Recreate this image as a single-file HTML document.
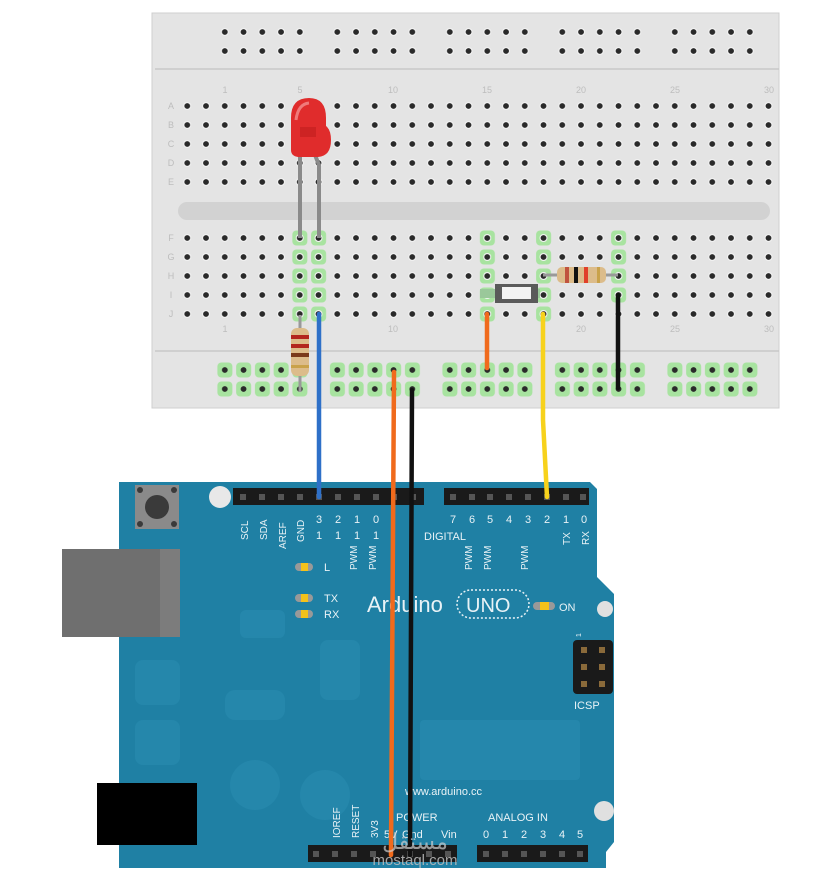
<!DOCTYPE html>
<html><head><meta charset="utf-8"><style>
html,body{margin:0;padding:0;background:#fff;}
svg{display:block;}
text{font-family:"Liberation Sans",sans-serif;}
</style></head><body>
<svg width="832" height="886" viewBox="0 0 832 886" xmlns="http://www.w3.org/2000/svg">
<defs>
<pattern id="dg" x="196.6" y="96.5" width="18.75" height="19" patternUnits="userSpaceOnUse">
<circle cx="9.4" cy="9.5" r="4" fill="#f2f2f2"/><circle cx="9.4" cy="9.5" r="2.9" fill="#2a2a2a"/></pattern>
<pattern id="dg2" x="196.6" y="228.5" width="18.75" height="19" patternUnits="userSpaceOnUse">
<circle cx="9.4" cy="9.5" r="4" fill="#f2f2f2"/><circle cx="9.4" cy="9.5" r="2.9" fill="#2a2a2a"/></pattern>
<pattern id="gh" x="196.6" y="228.5" width="18.75" height="19" patternUnits="userSpaceOnUse">
<rect x="2" y="2" width="15" height="15" rx="4" fill="#a8e3a0"/></pattern>
<pattern id="rt" x="215.4" y="22.5" width="18.75" height="19" patternUnits="userSpaceOnUse">
<circle cx="9.4" cy="9.5" r="4" fill="#f2f2f2"/><circle cx="9.4" cy="9.5" r="2.9" fill="#2a2a2a"/></pattern>
<pattern id="rb" x="215.4" y="360.5" width="18.75" height="19" patternUnits="userSpaceOnUse">
<rect x="2" y="2" width="15" height="15" rx="4" fill="#a8e3a0"/><circle cx="9.4" cy="9.5" r="2.9" fill="#2a2a2a"/></pattern>
</defs>

<!-- Breadboard -->
<rect x="152" y="13" width="627" height="395" fill="#e4e4e4" stroke="#cfcfcf"/>
<line x1="155" y1="69" x2="779" y2="69" stroke="#c8c8c8" stroke-width="1.5"/>
<line x1="155" y1="351" x2="779" y2="351" stroke="#c8c8c8" stroke-width="1.5"/>
<rect x="178" y="202" width="592" height="18" rx="9" fill="#d2d2d2"/>

<!-- top rail -->
<g fill="url(#rt)">
<rect x="215.4" y="22.5" width="93.75" height="38"/>
<rect x="327.9" y="22.5" width="93.75" height="38"/>
<rect x="440.4" y="22.5" width="93.75" height="38"/>
<rect x="552.9" y="22.5" width="93.75" height="38"/>
<rect x="665.4" y="22.5" width="93.75" height="38"/>
</g>
<!-- bottom rail -->
<g fill="url(#rb)">
<rect x="215.4" y="360.5" width="93.75" height="38"/>
<rect x="327.9" y="360.5" width="93.75" height="38"/>
<rect x="440.4" y="360.5" width="93.75" height="38"/>
<rect x="552.9" y="360.5" width="93.75" height="38"/>
<rect x="665.4" y="360.5" width="93.75" height="38"/>
</g>

<!-- highlights lower -->
<g fill="url(#gh)">
<rect x="290.35" y="228.5" width="37.5" height="95"/>
<rect x="477.85" y="228.5" width="18.75" height="95"/>
<rect x="534.1" y="228.5" width="18.75" height="95"/>
<rect x="609.1" y="228.5" width="18.75" height="76"/>
</g>
<!-- main grids -->
<rect x="177" y="96.5" width="601" height="95" fill="url(#dg)"/>
<rect x="177" y="228.5" width="601" height="95" fill="url(#dg2)"/>

<!-- labels -->
<g font-size="9" fill="#bdbdbd" text-anchor="middle">
<text x="225" y="93">1</text><text x="300" y="93">5</text><text x="393" y="93">10</text><text x="487" y="93">15</text><text x="581" y="93">20</text><text x="675" y="93">25</text><text x="769" y="93">30</text>
<text x="225" y="332">1</text><text x="393" y="332">10</text><text x="581" y="332">20</text><text x="675" y="332">25</text><text x="769" y="332">30</text>
<text x="171" y="109">A</text><text x="171" y="128">B</text><text x="171" y="147">C</text><text x="171" y="166">D</text><text x="171" y="185">E</text>
<text x="171" y="241">F</text><text x="171" y="260">G</text><text x="171" y="279">H</text><text x="171" y="298">I</text><text x="171" y="317">J</text>
</g>

<!-- LED -->
<path d="M300 150 L300 238" stroke="#8a8a8a" stroke-width="4"/>
<path d="M313 150 L319 165 L319 238" stroke="#8a8a8a" stroke-width="4" fill="none"/>
<path d="M291 150 L291 118 Q291 98 309 98 Q326 98 326 118 L326 126 Q331 130 331 140 Q331 156 318 157 L298 157 Q291 156 291 150 Z" fill="#e02c2c"/>
<path d="M296 120 Q298 104 309 103" stroke="#f07a7a" stroke-width="3" fill="none"/>
<rect x="300" y="127" width="16" height="10" fill="#c01e1e" opacity="0.6"/>

<!-- resistor 1 vertical -->
<line x1="300" y1="315" x2="300" y2="392" stroke="#999" stroke-width="3"/>
<rect x="291" y="328" width="18" height="48" rx="6" fill="#dcbc8a"/>
<rect x="291" y="335" width="18" height="4" fill="#b3261e"/>
<rect x="291" y="344" width="18" height="4" fill="#b3261e"/>
<rect x="291" y="353" width="18" height="4" fill="#7a3a1a"/>
<rect x="291" y="365" width="18" height="3" fill="#c9a24a"/>

<!-- button -->
<rect x="480" y="289" width="60" height="9" fill="#9ac89a"/>
<rect x="495" y="284" width="43" height="19" fill="#5a5a5a"/>
<rect x="502" y="287" width="29" height="12" fill="#f2f2f2"/>

<!-- resistor 2 -->
<line x1="543" y1="275" x2="618" y2="275" stroke="#999" stroke-width="3"/>
<rect x="557" y="267" width="49" height="16" rx="5" fill="#dcbc8a"/>
<rect x="565" y="267" width="4" height="16" fill="#b3261e" opacity="0.7"/>
<rect x="574" y="267" width="4" height="16" fill="#111"/>
<rect x="584" y="267" width="4" height="16" fill="#e0402a"/>
<rect x="597" y="267" width="3" height="16" fill="#c9a24a"/>

<!-- Arduino board -->
<path d="M119 482 L590 482 L597 489 L597 577 L614 594 L614 842 L606 852 L606 868 L119 868 Z" fill="#1f80a4"/>
<g fill="#2a8db2" opacity="0.55">
<rect x="135" y="660" width="45" height="45" rx="8"/><rect x="135" y="720" width="45" height="45" rx="8"/>
<rect x="225" y="690" width="60" height="30" rx="10"/><rect x="230" y="760" width="50" height="50" rx="25"/>
<rect x="300" y="770" width="50" height="50" rx="25"/><rect x="320" y="640" width="40" height="60" rx="8"/>
<rect x="420" y="720" width="160" height="60" rx="4"/><rect x="240" y="610" width="45" height="28" rx="6"/>
</g>
<!-- USB -->
<rect x="62" y="549" width="118" height="88" fill="#6f6f6f"/>
<rect x="160" y="549" width="20" height="88" fill="#7c7c7c"/>
<!-- power jack -->
<rect x="97" y="783" width="100" height="62" fill="#000"/>
<!-- reset button -->
<rect x="135" y="485" width="44" height="44" fill="#8a8a8a"/>
<circle cx="157" cy="507" r="12" fill="#3a3a3a"/>
<g fill="#3a3a3a"><circle cx="140" cy="490" r="3"/><circle cx="174" cy="490" r="3"/><circle cx="140" cy="524" r="3"/><circle cx="174" cy="524" r="3"/></g>
<!-- holes -->
<circle cx="220" cy="497" r="11" fill="#e8e8e8"/>
<circle cx="605" cy="609" r="8" fill="#e0e0e0"/>
<circle cx="604" cy="811" r="10" fill="#e0e0e0"/>

<!-- headers -->
<rect x="233" y="488" width="191" height="17" fill="#1a1a1a"/>
<rect x="444" y="488" width="145" height="17" fill="#1a1a1a"/>
<rect x="308" y="845" width="149" height="17" fill="#1a1a1a"/>
<rect x="477" y="845" width="111" height="17" fill="#1a1a1a"/>
<g fill="#555">
<rect x="240" y="494" width="6" height="6"/><rect x="259" y="494" width="6" height="6"/><rect x="278" y="494" width="6" height="6"/><rect x="297" y="494" width="6" height="6"/><rect x="316" y="494" width="6" height="6"/><rect x="335" y="494" width="6" height="6"/><rect x="354" y="494" width="6" height="6"/><rect x="373" y="494" width="6" height="6"/><rect x="391" y="494" width="6" height="6"/><rect x="410" y="494" width="6" height="6"/>
<rect x="450" y="494" width="6" height="6"/><rect x="469" y="494" width="6" height="6"/><rect x="487" y="494" width="6" height="6"/><rect x="506" y="494" width="6" height="6"/><rect x="525" y="494" width="6" height="6"/><rect x="544" y="494" width="6" height="6"/><rect x="563" y="494" width="6" height="6"/><rect x="580" y="494" width="6" height="6"/>
<rect x="313" y="851" width="6" height="6"/><rect x="332" y="851" width="6" height="6"/><rect x="351" y="851" width="6" height="6"/><rect x="370" y="851" width="6" height="6"/><rect x="407" y="851" width="6" height="6"/><rect x="426" y="851" width="6" height="6"/><rect x="445" y="851" width="6" height="6"/>
<rect x="483" y="851" width="6" height="6"/><rect x="502" y="851" width="6" height="6"/><rect x="521" y="851" width="6" height="6"/><rect x="540" y="851" width="6" height="6"/><rect x="559" y="851" width="6" height="6"/><rect x="577" y="851" width="6" height="6"/>
</g>
<!-- ICSP -->
<rect x="573" y="640" width="40" height="54" rx="4" fill="#1a1a1a"/>
<g fill="#8a6a3a"><rect x="581" y="647" width="6" height="6"/><rect x="599" y="647" width="6" height="6"/><rect x="581" y="664" width="6" height="6"/><rect x="599" y="664" width="6" height="6"/><rect x="581" y="681" width="6" height="6"/><rect x="599" y="681" width="6" height="6"/></g>

<!-- board labels -->
<g fill="#e8f2f6" font-size="11">
<g text-anchor="middle">
<text x="319" y="523">3</text><text x="338" y="523">2</text><text x="357" y="523">1</text><text x="376" y="523">0</text>
<text x="319" y="539">1</text><text x="338" y="539">1</text><text x="357" y="539">1</text><text x="376" y="539">1</text>
<text x="453" y="523">7</text><text x="472" y="523">6</text><text x="490" y="523">5</text><text x="509" y="523">4</text><text x="528" y="523">3</text><text x="547" y="523">2</text><text x="566" y="523">1</text><text x="584" y="523">0</text>
</g>
<text x="424" y="540">DIGITAL</text>
<g font-size="10">
<text transform="translate(248,540) rotate(-90)">SCL</text>
<text transform="translate(267,540) rotate(-90)">SDA</text>
<text transform="translate(286,549) rotate(-90)">AREF</text>
<text transform="translate(304,542) rotate(-90)">GND</text>
<text transform="translate(357,570) rotate(-90)">PWM</text>
<text transform="translate(376,570) rotate(-90)">PWM</text>
<text transform="translate(472,570) rotate(-90)">PWM</text>
<text transform="translate(491,570) rotate(-90)">PWM</text>
<text transform="translate(528,570) rotate(-90)">PWM</text>
<text transform="translate(570,545) rotate(-90)">TX</text>
<text transform="translate(589,545) rotate(-90)">RX</text>
<text transform="translate(581,637) rotate(-90)" font-size="7">1</text>
</g>
<text x="324" y="571">L</text><text x="324" y="602">TX</text><text x="324" y="618">RX</text>
<text x="367" y="612" font-size="22">Arduino</text>
<text x="466" y="612" font-size="20">UNO</text>
<text x="559" y="611" font-size="11">ON</text>
<text x="574" y="709" font-size="11">ICSP</text>
<text x="405" y="795" font-size="11">www.arduino.cc</text>
<text x="396" y="821" font-size="11">POWER</text>
<text x="488" y="821" font-size="11">ANALOG IN</text>
<g text-anchor="middle"><text x="486" y="838">0</text><text x="505" y="838">1</text><text x="524" y="838">2</text><text x="543" y="838">3</text><text x="562" y="838">4</text><text x="580" y="838">5</text></g>
<text x="384" y="838">5V</text><text x="402" y="838">Gnd</text><text x="441" y="838">Vin</text>
<g font-size="10">
<text transform="translate(340,838) rotate(-90)">IOREF</text>
<text transform="translate(359,838) rotate(-90)">RESET</text>
<text transform="translate(378,838) rotate(-90)">3V3</text>
</g>
</g>
<rect x="457" y="590" width="72" height="28" rx="14" fill="none" stroke="#e8f2f6" stroke-width="1.5" stroke-dasharray="2 2"/>
<!-- LEDs -->
<g>
<rect x="295" y="563" width="18" height="8" rx="4" fill="#999"/><rect x="301" y="563" width="7" height="8" fill="#f3c21b"/>
<rect x="295" y="594" width="18" height="8" rx="4" fill="#999"/><rect x="301" y="594" width="7" height="8" fill="#f3c21b"/>
<rect x="295" y="610" width="18" height="8" rx="4" fill="#999"/><rect x="301" y="610" width="7" height="8" fill="#f3c21b"/>
<rect x="533" y="602" width="22" height="8" rx="4" fill="#999"/><rect x="540" y="602" width="9" height="8" fill="#f3c21b"/>
</g>

<!-- wires -->
<g stroke-linecap="round" fill="none" stroke-width="4.5">
<path d="M319 314 L319 497" stroke="#2e70c8"/>
<path d="M487 314 L487 368" stroke="#f06a1c"/>
<path d="M543 314 L543 420 L547 497" stroke="#f7d21c"/>
<path d="M618 295 L618 388" stroke="#111"/>
<path d="M394 372 L391 855" stroke="#f06a1c"/>
<path d="M412 390 L410 855" stroke="#111"/>
</g>

<!-- watermark -->
<text x="415" y="849" font-size="22" fill="#cfcfcf" opacity="0.7" text-anchor="middle" font-family="'Liberation Sans','DejaVu Sans',sans-serif">مستقل</text>
<text x="415" y="865" font-size="15" fill="#bdbdbd" opacity="0.85" text-anchor="middle">mostaql.com</text>
</svg>
</body></html>
